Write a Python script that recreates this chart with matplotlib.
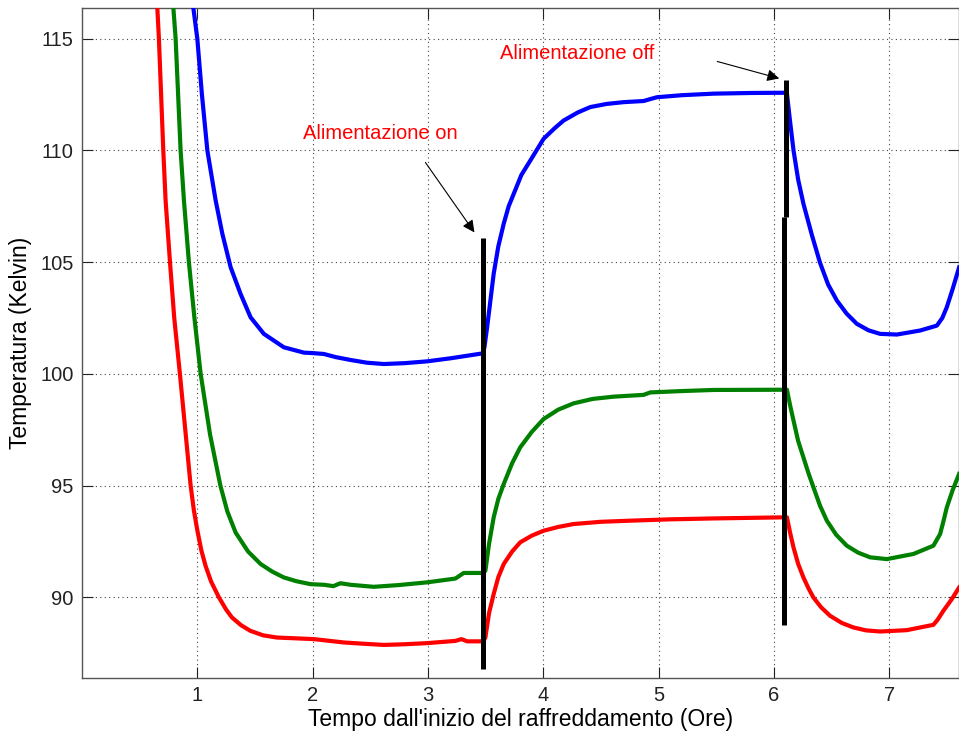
import matplotlib
matplotlib.use("Agg")
import matplotlib.pyplot as plt

plt.rcParams['font.family'] = ['Liberation Sans', 'DejaVu Sans']

# ---- data (hours, Kelvin) ----
red_x = [0.653, 0.667, 0.705, 0.725, 0.763, 0.80, 0.849, 0.89, 0.942, 0.97, 1.0, 1.035, 1.072, 1.12, 1.187,
         1.25, 1.30, 1.38, 1.46, 1.57, 1.69, 2.01, 2.27, 2.45, 2.617, 2.8, 2.993, 3.238, 3.29, 3.34, 3.478,
         3.498, 3.53, 3.57, 3.61, 3.657, 3.73, 3.80, 3.9, 4.003, 4.13, 4.263, 4.5, 4.755, 5.1, 5.477, 6.098,
         6.113, 6.14, 6.17, 6.21, 6.256, 6.3, 6.343, 6.41, 6.488, 6.59, 6.69, 6.8, 6.921, 7.152, 7.383,
         7.42, 7.47, 7.54, 7.606]
red_y = [116.4, 115.0, 110.0, 107.76, 105.0, 102.5, 100.0, 97.8, 95.0, 93.9, 93.0, 92.1, 91.4, 90.7, 90.0,
         89.45, 89.1, 88.75, 88.5, 88.3, 88.2, 88.13, 87.98, 87.92, 87.87, 87.9, 87.95, 88.05, 88.13, 88.03, 88.03,
         88.2, 89.3, 90.15, 90.9, 91.49, 92.05, 92.46, 92.76, 92.98, 93.15, 93.28, 93.38, 93.43, 93.49, 93.53, 93.58,
         93.58, 92.9, 92.23, 91.5, 90.89, 90.4, 89.99, 89.55, 89.17, 88.85, 88.65, 88.52, 88.47, 88.53, 88.77,
         89.0, 89.40, 89.9, 90.44]

green_x = [0.792, 0.812, 0.855, 0.884, 0.927, 0.975, 1.029, 1.11, 1.20, 1.26, 1.332, 1.44, 1.549, 1.65, 1.75,
           1.86, 1.98, 2.10, 2.18, 2.24, 2.33, 2.53, 2.75, 2.993, 3.238, 3.31, 3.478,
           3.498, 3.53, 3.57, 3.61, 3.657, 3.73, 3.80, 3.9, 4.003, 4.13, 4.263, 4.43, 4.61, 4.87, 4.928, 5.2, 5.477, 6.098,
           6.113, 6.14, 6.17, 6.21, 6.256, 6.3, 6.343, 6.40, 6.459, 6.54, 6.632, 6.73, 6.834, 6.979, 7.21, 7.383,
           7.441, 7.47, 7.499, 7.55, 7.606]
green_y = [116.4, 115.0, 110.0, 107.76, 105.0, 102.5, 100.0, 97.3, 95.0, 93.85, 92.9, 92.05, 91.49, 91.15, 90.89,
           90.72, 90.59, 90.56, 90.5, 90.63, 90.56, 90.47, 90.55, 90.67, 90.84, 91.09, 91.09,
           91.19, 92.4, 93.58, 94.4, 95.07, 96.0, 96.71, 97.4, 97.98, 98.4, 98.68, 98.88, 98.98, 99.06, 99.17, 99.23, 99.28, 99.29,
           99.29, 98.6, 97.91, 97.0, 96.26, 95.55, 94.92, 94.1, 93.43, 92.8, 92.31, 92.0, 91.79, 91.71, 91.94, 92.31,
           92.83, 93.4, 94.02, 94.8, 95.52]

blue_x = [0.965, 1.0, 1.04, 1.087, 1.13, 1.159, 1.217, 1.289, 1.375, 1.462, 1.577, 1.75, 1.924, 2.0, 2.097,
          2.2, 2.33, 2.47, 2.617, 2.8, 2.993, 3.2, 3.478,
          3.49, 3.513, 3.57, 3.61, 3.657, 3.70, 3.744, 3.81, 3.888, 4.003, 4.1, 4.177, 4.3, 4.408, 4.55, 4.697,
          4.87, 4.93, 4.986, 5.2, 5.477, 5.8, 6.098,
          6.113, 6.14, 6.17, 6.21, 6.256, 6.33, 6.40, 6.47, 6.546, 6.63, 6.719, 6.82, 6.921, 7.066, 7.268, 7.413,
          7.46, 7.499, 7.55, 7.606]
blue_y = [116.4, 115.0, 112.5, 110.0, 108.66, 107.76, 106.27, 104.77, 103.58, 102.53, 101.79, 101.19, 100.95, 100.93, 100.89,
          100.75, 100.62, 100.5, 100.44, 100.48, 100.56, 100.7, 100.92,
          101.2, 102.08, 104.48, 105.7, 106.72, 107.5, 108.06, 108.9, 109.55, 110.52, 111.0, 111.34, 111.7, 111.94, 112.08, 112.16,
          112.21, 112.3, 112.38, 112.47, 112.54, 112.57, 112.58,
          112.54, 111.3, 110.0, 108.7, 107.61, 106.2, 104.97, 104.0, 103.28, 102.7, 102.24, 101.95, 101.79, 101.76, 101.94, 102.16,
          102.5, 102.98, 103.8, 104.77]

# power on / off markers (x, y_bottom, y_top)
marker_x = [3.478, 6.107, 6.09]
marker_y0 = [86.79, 107.0, 88.76]
marker_y1 = [106.1, 113.13, 107.0]

ann_text = ["Alimentazione on", "Alimentazione off"]
ann_text_xy = [(2.588, 110.76), (4.295, 114.34)]
ann_tail_xy = [(2.978, 109.46), (5.509, 113.98)]
ann_head_xy = [(3.403, 106.33), (6.046, 113.22)]

x_ticks = [1, 2, 3, 4, 5, 6, 7]
y_ticks = [90, 95, 100, 105, 110, 115]

fig = plt.figure(figsize=(9.59, 7.40), dpi=100)
ax = fig.add_axes([0.0855, 0.0838, 0.9145, 0.905])

ax.plot(red_x, red_y, color='#ff0000', lw=3.0, solid_joinstyle='round', zorder=3)
ax.plot(green_x, green_y, color='#008000', lw=3.0, solid_joinstyle='round', zorder=3)
ax.plot(blue_x, blue_y, color='#0000ff', lw=3.0, solid_joinstyle='round', zorder=3)

for mx, y0, y1 in zip(marker_x, marker_y0, marker_y1):
    ax.plot([mx, mx], [y0, y1], color='black', lw=3.6, solid_capstyle='butt', zorder=4)

for t, txy in zip(ann_text, ann_text_xy):
    ax.text(txy[0], txy[1], t, color='#ff0000', fontsize=14.5, ha='center', va='center')
for tail, head in zip(ann_tail_xy, ann_head_xy):
    ax.annotate('', xy=head, xytext=tail,
                arrowprops=dict(arrowstyle='-|>', color='black', lw=0.8,
                                mutation_scale=18, shrinkA=0, shrinkB=0))

ax.set_xlim(0, 7.605)
ax.set_ylim(86.39, 116.36)
ax.set_xticks(x_ticks)
ax.set_yticks(y_ticks)
ax.tick_params(direction='in', length=8, width=0.8, top=True, right=True,
               labelsize=14.5, colors='#222222', pad=6)
ax.grid(True, linestyle=(0, (1, 3)), color='#444444', lw=0.8)
for s in ax.spines.values():
    s.set_color('#555555')
    s.set_linewidth(1.0)

ax.set_xlabel("Tempo dall'inizio del raffreddamento (Ore)", fontsize=16.5, labelpad=2)
ax.set_ylabel("Temperatura (Kelvin)", fontsize=16.5, labelpad=6)

fig.savefig('out.png', dpi=100)
